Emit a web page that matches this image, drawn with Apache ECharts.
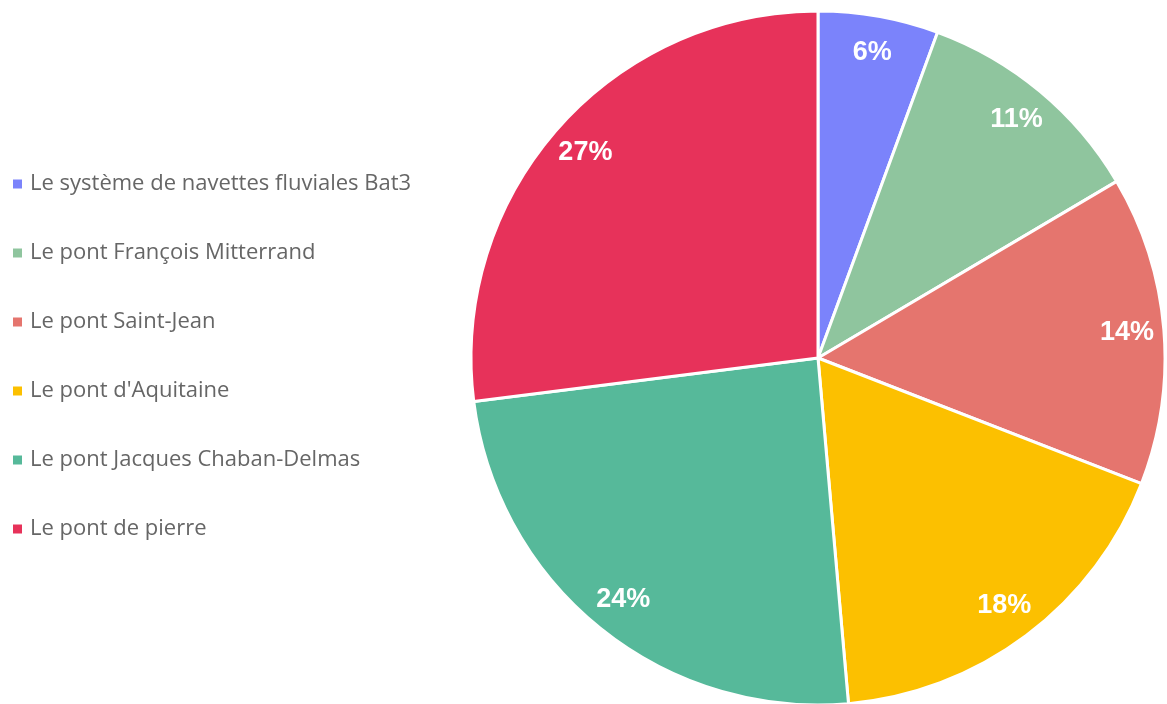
<!DOCTYPE html>
<html>
<head>
<meta charset="utf-8">
<script src="https://cdn.jsdelivr.net/npm/echarts@6/dist/echarts.min.js"></script>
<style>html,body{margin:0;padding:0;background:#fff}#c{width:1167px;height:704px}</style>
</head>
<body>
<div id="c"></div>
<script>
const categories = [
  "Le système de navettes fluviales Bat3",
  "Le pont François Mitterrand",
  "Le pont Saint-Jean",
  "Le pont d'Aquitaine",
  "Le pont Jacques Chaban-Delmas",
  "Le pont de pierre"
];
const values = [5.6, 10.9, 14.4, 17.7, 24.4, 27.0];
const colors = ["#7b83fb", "#8fc59e", "#e5756e", "#fcc000", "#56b99a", "#e7325a"];

const data = categories.map((n, i) => ({ name: n, value: values[i], itemStyle: { color: colors[i] } }));
const R = 347;
const chart = echarts.init(document.getElementById('c'));
chart.setOption({
  animation: false,
  legend: {
    orient: 'vertical',
    left: 6,
    top: 168,
    itemGap: 47,
    itemWidth: 11,
    itemHeight: 11,
    icon: 'rect',
    textStyle: { fontFamily: "'Open Sans', sans-serif", fontSize: 22, color: '#666', padding: [0, 0, 0, 2] },
    data: categories
  },
  series: [
    {
      type: 'pie',
      center: [818, 358],
      radius: [0, R],
      startAngle: 90,
      clockwise: true,
      data: data,
      itemStyle: { borderColor: '#fff', borderWidth: 3 },
      label: { show: false },
      labelLine: { show: false }
    },
    {
      type: 'pie',
      center: [818, 358],
      radius: [R * 0.77, R],
      startAngle: 90,
      clockwise: true,
      silent: true,
      legendHoverLink: false,
      data: categories.map((n, i) => ({ name: n + ' ', value: values[i], itemStyle: { color: 'rgba(0,0,0,0)' } })),
      itemStyle: { borderWidth: 0 },
      label: {
        show: true,
        position: 'inside',
        formatter: p => Math.round(p.value) + '%',
        color: '#fff',
        fontFamily: 'Liberation Sans, Arial, sans-serif',
        fontWeight: 'bold',
        fontSize: 27
      },
      labelLine: { show: false }
    }
  ]
});
</script>
</body>
</html>
